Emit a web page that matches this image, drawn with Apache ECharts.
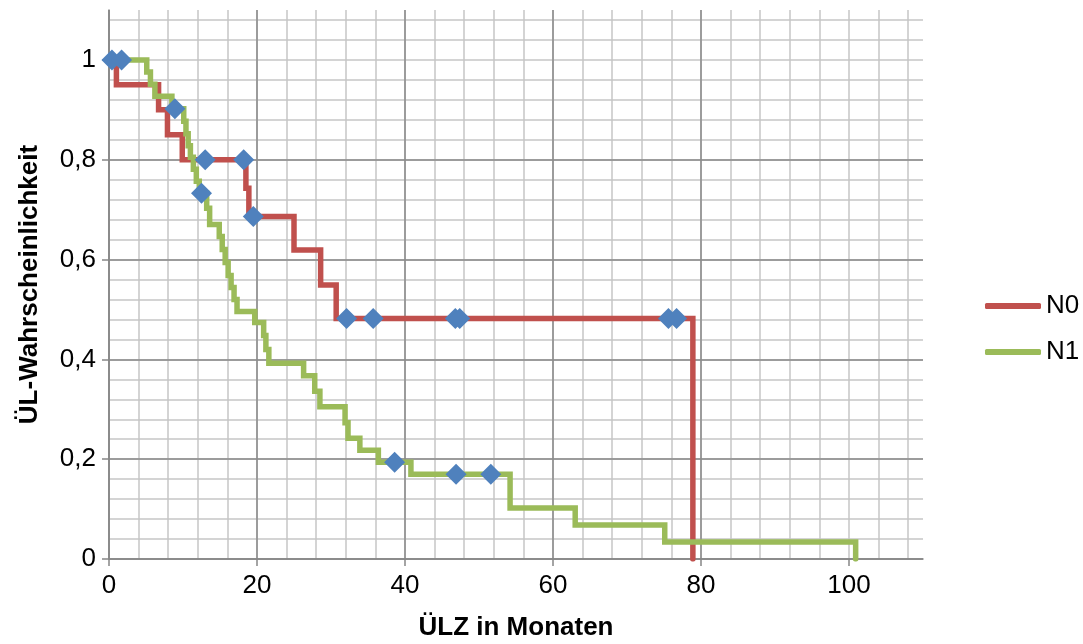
<!DOCTYPE html>
<html><head><meta charset="utf-8">
<script src="https://cdn.jsdelivr.net/npm/echarts@6/dist/echarts.min.js"></script>
<style>html,body{margin:0;padding:0;background:#fff}#c{width:1083px;height:644px}</style>
</head><body><div id="c"></div><script>
// N0 Kaplan-Meier steps (time in months, survival probability after step)
const n0X = [0, 1.0, 6.7, 7.9, 9.9, 18.5, 18.9, 25.0, 28.6, 30.7, 78.9];
const n0Y = [1, 0.95, 0.90, 0.85, 0.80, 0.743, 0.686, 0.619, 0.549, 0.482, 0];
// N1 Kaplan-Meier steps
const n1X = [0, 5.1, 5.6, 6.2, 8.5, 10.1, 10.4, 10.7, 11.0, 11.4, 11.8, 12.2, 13.2, 13.6, 14.9, 15.3, 15.7, 16.1, 16.5, 16.9, 17.3, 19.7, 20.9, 21.2, 21.6, 26.3, 27.8, 28.5, 31.9, 32.3, 33.9, 36.4, 40.8, 54.2, 63.0, 75.1, 100.9];
const n1Y = [1, 0.976, 0.951, 0.927, 0.902, 0.877, 0.852, 0.828, 0.805, 0.781, 0.757, 0.733, 0.703, 0.670, 0.646, 0.620, 0.594, 0.568, 0.544, 0.520, 0.496, 0.474, 0.448, 0.420, 0.392, 0.367, 0.336, 0.305, 0.273, 0.242, 0.218, 0.194, 0.170, 0.102, 0.068, 0.034, 0];
// censored observations (diamonds)
const censX = [0.4, 13.0, 18.2, 19.5, 32.1, 35.7, 46.8, 47.4, 75.6, 76.7, 1.7, 8.9, 12.5, 38.6, 46.9, 51.6];
const censY = [1, 0.8, 0.8, 0.686, 0.482, 0.482, 0.482, 0.482, 0.482, 0.482, 1, 0.902, 0.733, 0.194, 0.170, 0.170];
const xTicks = [0, 20, 40, 60, 80, 100];
const yTicks = [0, 0.2, 0.4, 0.6, 0.8, 1];
const seriesNames = ['N0', 'N1'];

const zip = (a, b) => a.map((v, i) => [v, b[i]]);
const FONT = '"Liberation Sans", Arial, sans-serif';
const minorColor = '#c6c6c6', majorColor = '#8a8a8a', axisColor = '#868686';

const chart = echarts.init(document.getElementById('c'), null, {renderer: 'canvas'});
chart.setOption({
  animation: false,
  backgroundColor: '#fff',
  textStyle: {fontFamily: FONT},
  grid: {left: 109, right: 160, top: 10, bottom: 85, containLabel: false, outerBoundsMode: 'none'},
  legend: {
    data: seriesNames, orient: 'vertical', left: 980, top: 288,
    itemWidth: 56, itemHeight: 6, itemGap: 20, icon: 'roundRect',
    textStyle: {fontSize: 26, color: '#000', fontFamily: FONT}
  },
  xAxis: [
    {type: 'value', position: 'bottom', min: 0, max: 110, interval: 4, z: 0,
     axisLine: {show: false}, axisTick: {show: false}, axisLabel: {show: false},
     splitLine: {show: true, showMaxLine: false, lineStyle: {color: minorColor, width: 1.5}}},
    {type: 'value', position: 'bottom', min: 0, max: 110, interval: 20, z: 1,
     name: 'ÜLZ in Monaten', nameLocation: 'middle', nameGap: 56,
     nameTextStyle: {fontSize: 26, fontWeight: 'bold', color: '#000', fontFamily: FONT},
     axisLine: {show: true, onZero: false, lineStyle: {color: axisColor, width: 1.5}},
     axisTick: {show: true, length: 7, customValues: xTicks, lineStyle: {color: axisColor, width: 1.5}},
     axisLabel: {show: true, margin: 14, fontSize: 26, color: '#000', fontFamily: FONT, customValues: xTicks},
     splitLine: {show: true, showMaxLine: false, lineStyle: {color: majorColor, width: 1.5}}}
  ],
  yAxis: [
    {type: 'value', position: 'left', min: 0, max: 1.1, interval: 0.04, z: 0,
     axisLine: {show: false}, axisTick: {show: false}, axisLabel: {show: false},
     splitLine: {show: true, showMaxLine: false, lineStyle: {color: minorColor, width: 1.5}}},
    {type: 'value', position: 'left', min: 0, max: 1.1, interval: 0.2, z: 1,
     name: 'ÜL-Wahrscheinlichkeit', nameLocation: 'middle', nameGap: 66,
     nameTextStyle: {fontSize: 26, fontWeight: 'bold', color: '#000', fontFamily: FONT},
     axisLine: {show: true, onZero: false, lineStyle: {color: axisColor, width: 1.5}},
     axisTick: {show: true, length: 7, customValues: yTicks, lineStyle: {color: axisColor, width: 1.5}},
     axisLabel: {show: true, margin: 13, fontSize: 26, color: '#000', fontFamily: FONT, customValues: yTicks,
       formatter: v => String(Math.round(v * 10) / 10).replace('.', ',')},
     splitLine: {show: true, showMaxLine: false, lineStyle: {color: majorColor, width: 1.5}}}
  ],
  series: [
    {name: 'N0', type: 'line', step: 'end', xAxisIndex: 1, yAxisIndex: 1, data: zip(n0X, n0Y),
     symbol: 'none', color: '#C0504D', lineStyle: {color: '#C0504D', width: 5.5, cap: 'round', join: 'miter'}, z: 3},
    {name: 'N1', type: 'line', step: 'end', xAxisIndex: 1, yAxisIndex: 1, data: zip(n1X, n1Y),
     symbol: 'none', color: '#9BBB59', lineStyle: {color: '#9BBB59', width: 5.5, cap: 'round', join: 'miter'}, z: 4},
    {name: 'zensiert', type: 'scatter', xAxisIndex: 1, yAxisIndex: 1, data: zip(censX, censY),
     symbol: 'diamond', symbolSize: 21, itemStyle: {color: '#4F81BD', opacity: 1}, z: 6}
  ]
});
</script></body></html>
